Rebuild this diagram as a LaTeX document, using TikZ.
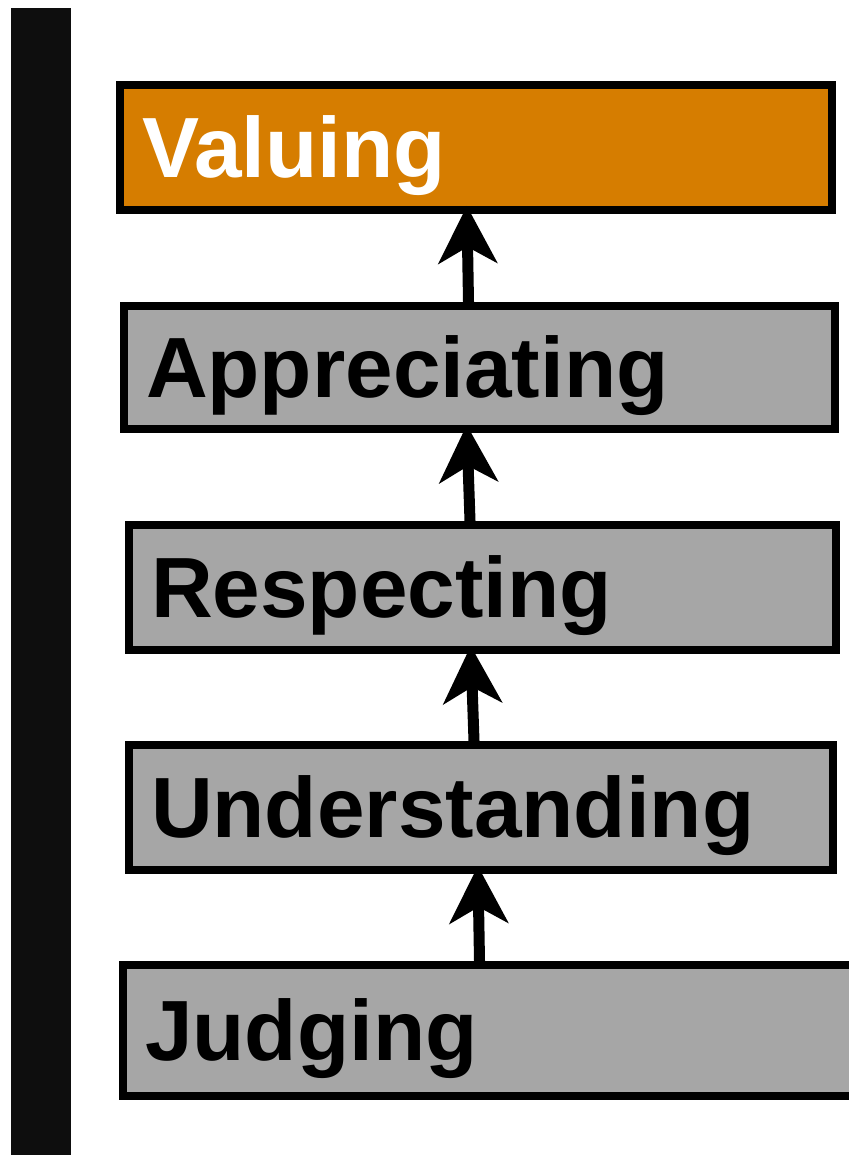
\documentclass[tikz,border=0pt]{standalone}
\usepackage{fontspec}
\setmainfont{Liberation Sans}
\usetikzlibrary{arrows.meta}
\definecolor{stagegray}{HTML}{A6A6A6}
\definecolor{goalorange}{HTML}{D67D00}
\definecolor{sidebar}{HTML}{0E0E0E}

\begin{document}
\begin{tikzpicture}[x=1pt, y=-1pt]
\tikzstyle{stage}=[rectangle, anchor=north west, draw=black, line width=8pt, fill=stagegray, inner xsep=22pt, inner ysep=0pt, text height=60pt, text depth=0pt, align=left, font=\bfseries\fontsize{85.5}{90}\selectfont]
\tikzstyle{goal}=[stage, fill=goalorange, text=white]
\tikzstyle{connect}=[-{Stealth[length=58pt, width=60pt, inset=17pt, line width=0pt]}, line width=11pt, line cap=round, shorten >=-8pt]

  \useasboundingbox (0,0) rectangle (848,1155);
  \fill[sidebar] (11,8) rectangle (71,1155);

  % levels, top one is the goal
  \node[goal]  (l5) at (116,81)  [minimum width=712pt, minimum height=125pt, text width=668pt] {Valuing};
  \node[stage] (l4) at (120,302) [minimum width=711pt, minimum height=123pt, text width=667pt] {Appreciating};
  \node[stage] (l3) at (125,521) [minimum width=707pt, minimum height=125pt, text width=663pt] {Respecting};
  \node[stage] (l2) at (125,741) [minimum width=704pt, minimum height=125pt, text width=660pt] {Understanding};
  \node[stage] (l1) at (119,961) [minimum width=732pt, minimum height=131pt, text width=688pt] {Judging};

  \path ([xshift=-11pt]l4.north)   edge [connect] ([xshift=-9pt]l5.south)
        ([xshift=-12.5pt]l3.north) edge [connect] ([xshift=-12.5pt]l4.south)
        ([xshift=-7pt]l2.north)    edge [connect] ([xshift=-11.5pt]l3.south)
        ([xshift=-9.5pt]l1.north)  edge [connect] ([xshift=-3pt]l2.south);

\end{tikzpicture}
\end{document}
